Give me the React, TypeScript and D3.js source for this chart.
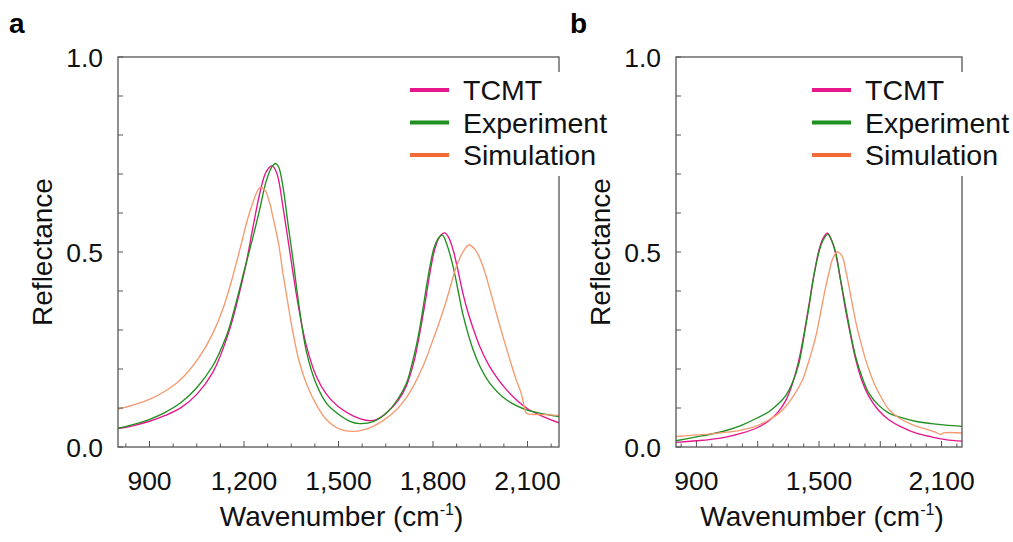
import React from "react";
import * as d3 from "d3";

// ---------- Data ----------
// Panel a
const aTcmtX = [800, 850, 900, 950, 1000, 1050, 1100, 1150, 1200, 1230, 1250, 1270, 1290, 1305, 1324, 1340, 1356, 1375, 1398, 1430, 1462, 1500, 1546, 1594, 1620, 1652, 1690, 1716, 1740, 1758, 1775, 1790, 1805, 1821, 1837, 1850, 1864, 1880, 1895, 1910, 1927, 1950, 1980, 2033, 2097, 2150, 2200];
const aTcmtY = [0.047, 0.055, 0.066, 0.081, 0.101, 0.135, 0.19, 0.29, 0.445, 0.57, 0.65, 0.705, 0.721, 0.7, 0.614, 0.53, 0.444, 0.35, 0.26, 0.18, 0.135, 0.103, 0.08, 0.068, 0.07, 0.087, 0.12, 0.158, 0.22, 0.292, 0.37, 0.445, 0.505, 0.539, 0.549, 0.537, 0.505, 0.45, 0.394, 0.348, 0.305, 0.255, 0.206, 0.147, 0.1, 0.078, 0.062];

const aExpX = [800, 850, 900, 950, 1000, 1050, 1100, 1133, 1150, 1186, 1200, 1229, 1250, 1271, 1290, 1300, 1310, 1324, 1340, 1356, 1375, 1398, 1430, 1462, 1500, 1536, 1567, 1610, 1652, 1690, 1716, 1740, 1758, 1775, 1790, 1805, 1821, 1830, 1845, 1864, 1880, 1895, 1927, 1950, 1980, 2033, 2097, 2150, 2200];
const aExpY = [0.048, 0.058, 0.071, 0.089, 0.114, 0.152, 0.207, 0.262, 0.298, 0.405, 0.45, 0.54, 0.61, 0.683, 0.72, 0.727, 0.718, 0.666, 0.57, 0.478, 0.36, 0.245, 0.16, 0.112, 0.084, 0.066, 0.06, 0.065, 0.087, 0.125, 0.164, 0.235, 0.305, 0.39, 0.462, 0.515, 0.539, 0.543, 0.517, 0.462, 0.4, 0.34, 0.25, 0.205, 0.164, 0.121, 0.095, 0.085, 0.078];

const aSimX = [800, 850, 900, 953, 1000, 1059, 1100, 1133, 1160, 1186, 1210, 1223, 1240, 1250, 1265, 1280, 1292, 1310, 1324, 1340, 1356, 1375, 1398, 1430, 1462, 1504, 1546, 1580, 1610, 1640, 1673, 1705, 1737, 1770, 1800, 1820, 1843, 1874, 1895, 1914, 1935, 1959, 1980, 2001, 2022, 2044, 2063, 2081, 2095, 2100, 2150, 2200];
const aSimY = [0.097, 0.108, 0.122, 0.145, 0.174, 0.232, 0.29, 0.354, 0.425, 0.504, 0.58, 0.614, 0.652, 0.665, 0.66, 0.63, 0.589, 0.52, 0.444, 0.365, 0.291, 0.22, 0.163, 0.108, 0.07, 0.046, 0.04, 0.044, 0.053, 0.067, 0.087, 0.115, 0.155, 0.21, 0.275, 0.32, 0.377, 0.462, 0.5, 0.518, 0.505, 0.462, 0.405, 0.343, 0.283, 0.224, 0.175, 0.135, 0.088, 0.085, 0.083, 0.081];

// Panel b
const bTcmtX = [800, 900, 963, 1050, 1126, 1200, 1256, 1300, 1337, 1370, 1402, 1430, 1451, 1475, 1500, 1520, 1541, 1560, 1581, 1605, 1630, 1655, 1679, 1710, 1744, 1790, 1842, 1900, 1972, 2050, 2120, 2200];
const bTcmtY = [0.012, 0.016, 0.019, 0.026, 0.036, 0.05, 0.068, 0.09, 0.119, 0.162, 0.224, 0.3, 0.365, 0.44, 0.505, 0.535, 0.548, 0.532, 0.497, 0.43, 0.352, 0.285, 0.226, 0.17, 0.13, 0.095, 0.07, 0.052, 0.036, 0.026, 0.019, 0.015];

const bExpX = [800, 900, 963, 1050, 1126, 1200, 1256, 1300, 1337, 1370, 1402, 1430, 1451, 1475, 1500, 1520, 1544, 1560, 1581, 1605, 1630, 1655, 1679, 1710, 1744, 1790, 1842, 1900, 1972, 2050, 2120, 2200];
const bExpY = [0.016, 0.026, 0.032, 0.043, 0.057, 0.075, 0.091, 0.11, 0.132, 0.165, 0.215, 0.295, 0.36, 0.44, 0.5, 0.53, 0.546, 0.532, 0.5, 0.43, 0.36, 0.29, 0.232, 0.18, 0.138, 0.108, 0.087, 0.076, 0.066, 0.06, 0.056, 0.053];

const bSimX = [800, 900, 963, 1050, 1126, 1200, 1256, 1300, 1337, 1380, 1419, 1450, 1484, 1510, 1533, 1550, 1565, 1590, 1614, 1630, 1647, 1667, 1687, 1708, 1728, 1750, 1777, 1810, 1842, 1890, 1940, 1990, 2037, 2070, 2097, 2110, 2200];
const bSimY = [0.027, 0.031, 0.033, 0.038, 0.044, 0.055, 0.07, 0.085, 0.104, 0.135, 0.172, 0.22, 0.283, 0.35, 0.411, 0.45, 0.48, 0.5, 0.488, 0.455, 0.411, 0.355, 0.305, 0.262, 0.224, 0.19, 0.155, 0.122, 0.096, 0.075, 0.061, 0.051, 0.044, 0.038, 0.032, 0.036, 0.036];

const seriesNames = ["TCMT", "Experiment", "Simulation"];
const legendColors = ["#e6168c", "#1f8f1f", "#f26a35"];
const lineColors = ["#e6168c", "#1f8f1f", "#f59a70"];

const yTicksMinor = [0, 0.1, 0.2, 0.3, 0.4, 0.5, 0.6, 0.7, 0.8, 0.9, 1.0];
const yTickLabels = [0, 0.5, 1.0];
const xTicksAll = [825, 900, 975, 1050, 1125, 1200, 1275, 1350, 1425, 1500, 1575, 1650, 1725, 1800, 1875, 1950, 2025, 2100, 2175];
const xMajor = [900, 1200, 1500, 1800, 2100];
const xLabelsA = [900, 1200, 1500, 1800, 2100];
const xLabelsB = [900, 1500, 2100];

const FONT = "'Liberation Sans', Arial, Helvetica, sans-serif";
const AXIS = "#555";

const zip = (xs: number[], ys: number[]) => xs.map((x, i) => [x, ys[i]] as [number, number]);

type PanelProps = {
  letter: string;
  letterX: number;
  left: number;
  right: number;
  series: [number, number][][];
  xLabels: number[];
  legendX: number;
};

function Panel({ letter, letterX, left, right, series, xLabels, legendX }: PanelProps) {
  const top = 57;
  const bottom = 447;
  const x = d3.scaleLinear().domain([800, 2200]).range([left, right]);
  const y = d3.scaleLinear().domain([0, 1]).range([bottom, top]);
  const line = d3
    .line<[number, number]>()
    .x((d) => x(d[0]))
    .y((d) => y(d[1]))
    .curve(d3.curveCatmullRom.alpha(0.5));
  const fmt = d3.format(",");
  const fmtY = d3.format(".1f");
  const rowY = [90, 122.5, 155];
  return (
    <g>
      <text x={letterX} y={33} fontFamily={FONT} fontWeight="bold" fontSize={28} fill="#000">
        {letter}
      </text>
      <clipPath id={`clip-${letter}`}>
        <rect x={left} y={top} width={right - left} height={bottom - top} />
      </clipPath>
      {/* curves */}
      <g clipPath={`url(#clip-${letter})`}>
        {series.map((s, i) => (
          <path key={i} d={line(s) || ""} fill="none" stroke={lineColors[i]} strokeWidth={1.35} />
        ))}
      </g>
      {/* frame */}
      <rect x={left} y={top} width={right - left} height={bottom - top} fill="none" stroke={AXIS} strokeWidth={1.3} />
      {/* y ticks */}
      {yTicksMinor.map((t) => (
        <line key={t} x1={left} x2={left + 5} y1={y(t)} y2={y(t)} stroke={AXIS} strokeWidth={1} />
      ))}
      {yTickLabels.map((t) => (
        <text key={t} x={left - 15} y={y(t) + 9.5} textAnchor="end" fontFamily={FONT} fontSize={26.5} fill="#111">
          {fmtY(t)}
        </text>
      ))}
      {/* x ticks */}
      {xTicksAll.map((t) => (
        <line
          key={t}
          x1={x(t)}
          x2={x(t)}
          y1={bottom}
          y2={bottom - (xMajor.includes(t) ? 6 : 3.5)}
          stroke={AXIS}
          strokeWidth={1}
        />
      ))}
      {xLabels.map((t) => (
        <text key={t} x={x(t)} y={490} textAnchor="middle" fontFamily={FONT} fontSize={26.5} fill="#111">
          {fmt(t)}
        </text>
      ))}
      {/* axis titles */}
      <text
        transform={`translate(${left - 66},252) rotate(-90)`}
        textAnchor="middle"
        fontFamily={FONT}
        fontSize={28}
        fill="#111"
      >
        Reflectance
      </text>
      <text x={(left + right) / 2 + 3} y={526} textAnchor="middle" fontFamily={FONT} fontSize={28} fill="#111">
        Wavenumber (cm
        <tspan fontSize={16} dy={-11}>-1</tspan>
        <tspan dy={11}>)</tspan>
      </text>
      {/* legend */}
      <rect x={legendX - 10} y={72} width={right - legendX + 30} height={104} fill="#fff" />
      {seriesNames.map((n, i) => (
        <g key={n}>
          <line x1={legendX} x2={legendX + 39} y1={rowY[i]} y2={rowY[i]} stroke={legendColors[i]} strokeWidth={4} />
          <text x={legendX + 53} y={rowY[i] + 10} fontFamily={FONT} fontSize={28.5} fill="#111">
            {n}
          </text>
        </g>
      ))}
    </g>
  );
}

export default function App() {
  const seriesA = [zip(aTcmtX, aTcmtY), zip(aExpX, aExpY), zip(aSimX, aSimY)];
  const seriesB = [zip(bTcmtX, bTcmtY), zip(bExpX, bExpY), zip(bSimX, bSimY)];
  return (
    <svg
      width={1013}
      height={542}
      style={{ position: "absolute", left: 0, top: 0, background: "#fff" }}
    >
      <rect width={1013} height={542} fill="#fff" />
      <Panel letter="a" letterX={9} left={118} right={559} series={seriesA} xLabels={xLabelsA} legendX={410} />
      <Panel letter="b" letterX={570} left={676} right={962} series={seriesB} xLabels={xLabelsB} legendX={812} />
    </svg>
  );
}
